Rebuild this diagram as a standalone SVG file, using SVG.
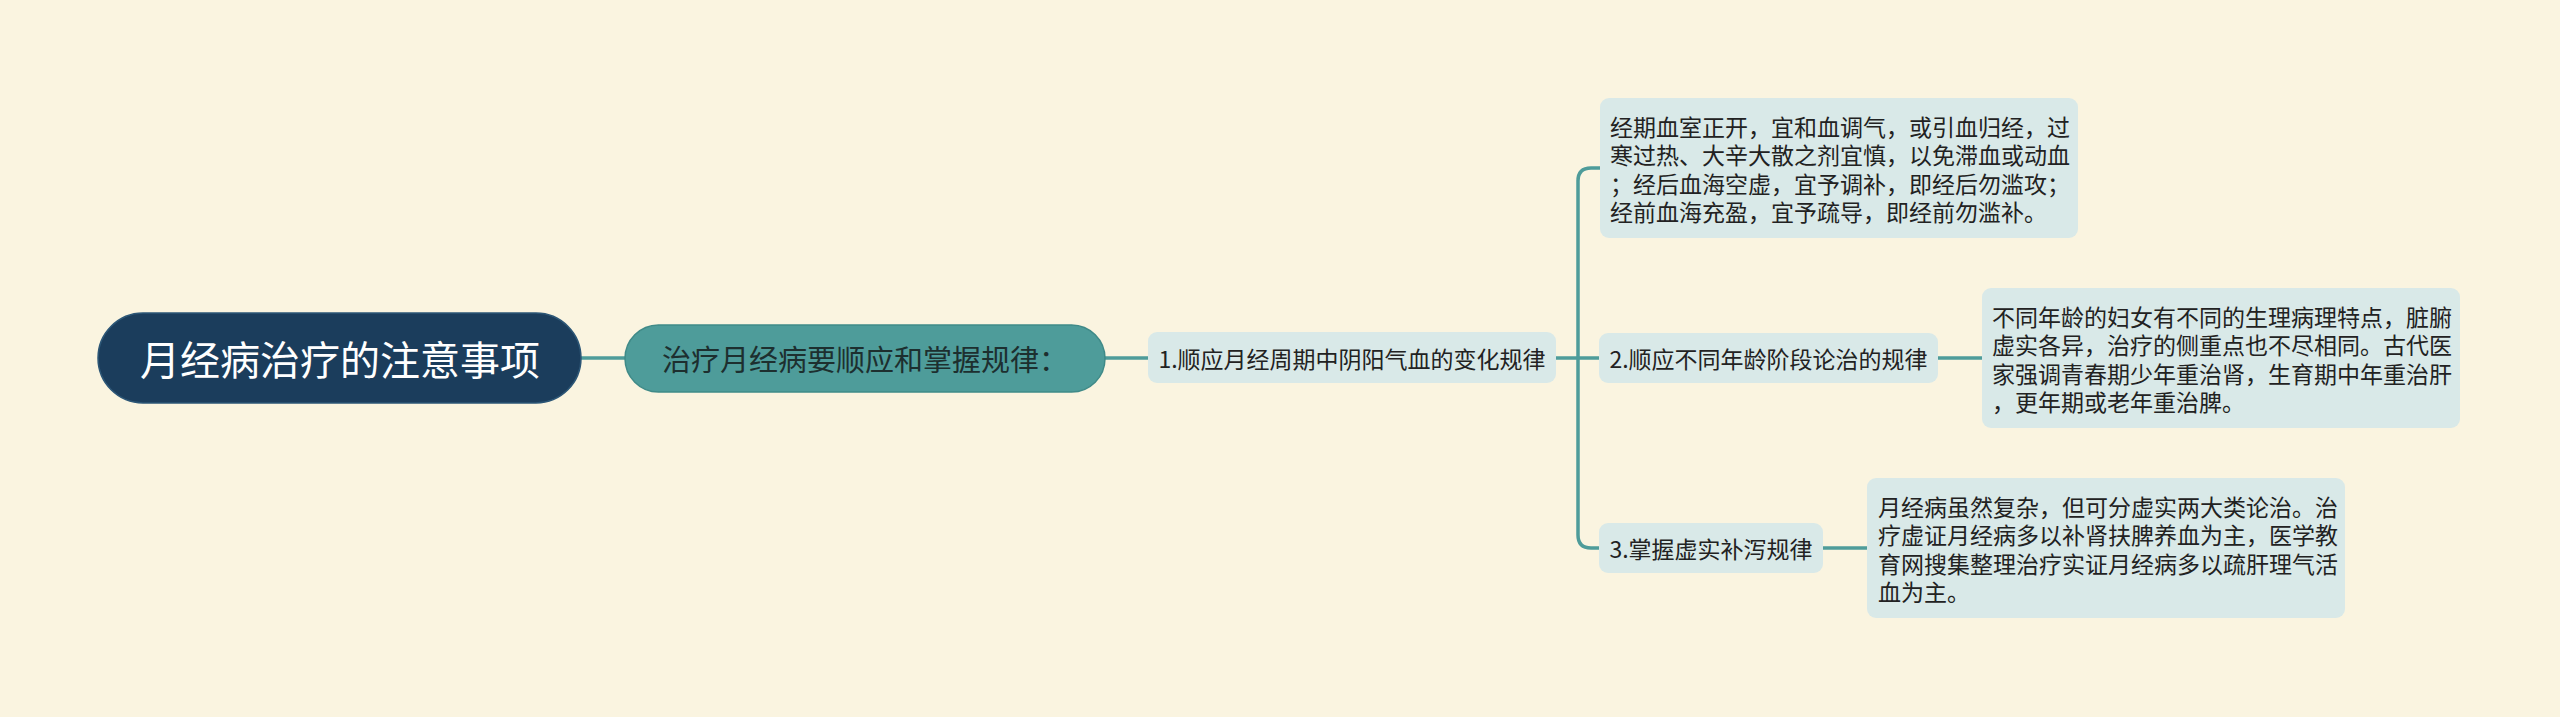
<svg xmlns="http://www.w3.org/2000/svg" width="2560" height="717" viewBox="0 0 2560 717">
  <style>
    text { font-family: "Noto Sans CJK SC", "Noto Sans", sans-serif; }
    .root-shape { fill: #1b3d5c; stroke: #2c5676; stroke-width: 1.5; }
    .root-text { fill: #ffffff; font-size: 40px; }
    .main-shape { fill: #4e9c9a; stroke: #3f8a88; stroke-width: 1.5; }
    .main-text { fill: #1d2f2f; font-size: 29px; }
    .sub-shape { fill: #d9e9e8; }
    .sub-text { fill: #222222; font-size: 23px; }
    .leaf-text { fill: #222222; font-size: 23px; }
    .conn { fill: none; stroke: #4e9c9a; stroke-width: 3.5; stroke-linecap: round; }
  </style>
  <rect x="0" y="0" width="2560" height="717" fill="#faf4e0"/>

  <g id="connectors">
    <path class="conn" d="M581 358 H625"/>
    <path class="conn" d="M1105 358 H1148"/>
    <path class="conn" d="M1556 358 H1599"/>
    <path class="conn" d="M1600 168 H1591 Q1578 168 1578 181 V535 Q1578 548 1591 548 H1599"/>
    <path class="conn" d="M1938 358 H1982"/>
    <path class="conn" d="M1823 548 H1867"/>
  </g>

  <g id="root">
    <rect class="root-shape" x="98" y="313" width="483" height="90" rx="45"/>
    <text class="root-text" x="340" y="358" text-anchor="middle" dominant-baseline="central">月经病治疗的注意事项</text>
  </g>

  <g id="main">
    <rect class="main-shape" x="625" y="325" width="480" height="67" rx="33.5"/>
    <text class="main-text" x="865" y="358" text-anchor="middle" dominant-baseline="central">治疗月经病要顺应和掌握规律：</text>
  </g>

  <g id="sub1">
    <rect class="sub-shape" x="1148" y="332" width="408" height="51" rx="9"/>
    <text class="sub-text" x="1352" y="357.5" text-anchor="middle" dominant-baseline="central">1.顺应月经周期中阴阳气血的变化规律</text>
  </g>

  <g id="sub2">
    <rect class="sub-shape" x="1599" y="333" width="339" height="50" rx="9"/>
    <text class="sub-text" x="1768.5" y="358" text-anchor="middle" dominant-baseline="central">2.顺应不同年龄阶段论治的规律</text>
  </g>

  <g id="sub3">
    <rect class="sub-shape" x="1599" y="523" width="224" height="50" rx="9"/>
    <text class="sub-text" x="1711" y="548" text-anchor="middle" dominant-baseline="central">3.掌握虚实补泻规律</text>
  </g>

  <g id="leaf1">
    <rect class="sub-shape" x="1600" y="98" width="478" height="140" rx="9"/>
    <text class="leaf-text" dominant-baseline="central">
      <tspan x="1610" y="125.5">经期血室正开，宜和血调气，或引血归经，过</tspan>
      <tspan x="1610" y="154">寒过热、大辛大散之剂宜慎，以免滞血或动血</tspan>
      <tspan x="1610" y="182.5">；经后血海空虚，宜予调补，即经后勿滥攻；</tspan>
      <tspan x="1610" y="211">经前血海充盈，宜予疏导，即经前勿滥补。</tspan>
    </text>
  </g>

  <g id="leaf2">
    <rect class="sub-shape" x="1982" y="288" width="478" height="140" rx="9"/>
    <text class="leaf-text" dominant-baseline="central">
      <tspan x="1992" y="315.5">不同年龄的妇女有不同的生理病理特点，脏腑</tspan>
      <tspan x="1992" y="344">虚实各异，治疗的侧重点也不尽相同。古代医</tspan>
      <tspan x="1992" y="372.5">家强调青春期少年重治肾，生育期中年重治肝</tspan>
      <tspan x="1992" y="401">，更年期或老年重治脾。</tspan>
    </text>
  </g>

  <g id="leaf3">
    <rect class="sub-shape" x="1867" y="478" width="478" height="140" rx="9"/>
    <text class="leaf-text" dominant-baseline="central">
      <tspan x="1878" y="505.5">月经病虽然复杂，但可分虚实两大类论治。治</tspan>
      <tspan x="1878" y="534">疗虚证月经病多以补肾扶脾养血为主，医学教</tspan>
      <tspan x="1878" y="562.5">育网搜集整理治疗实证月经病多以疏肝理气活</tspan>
      <tspan x="1878" y="591">血为主。</tspan>
    </text>
  </g>
</svg>
